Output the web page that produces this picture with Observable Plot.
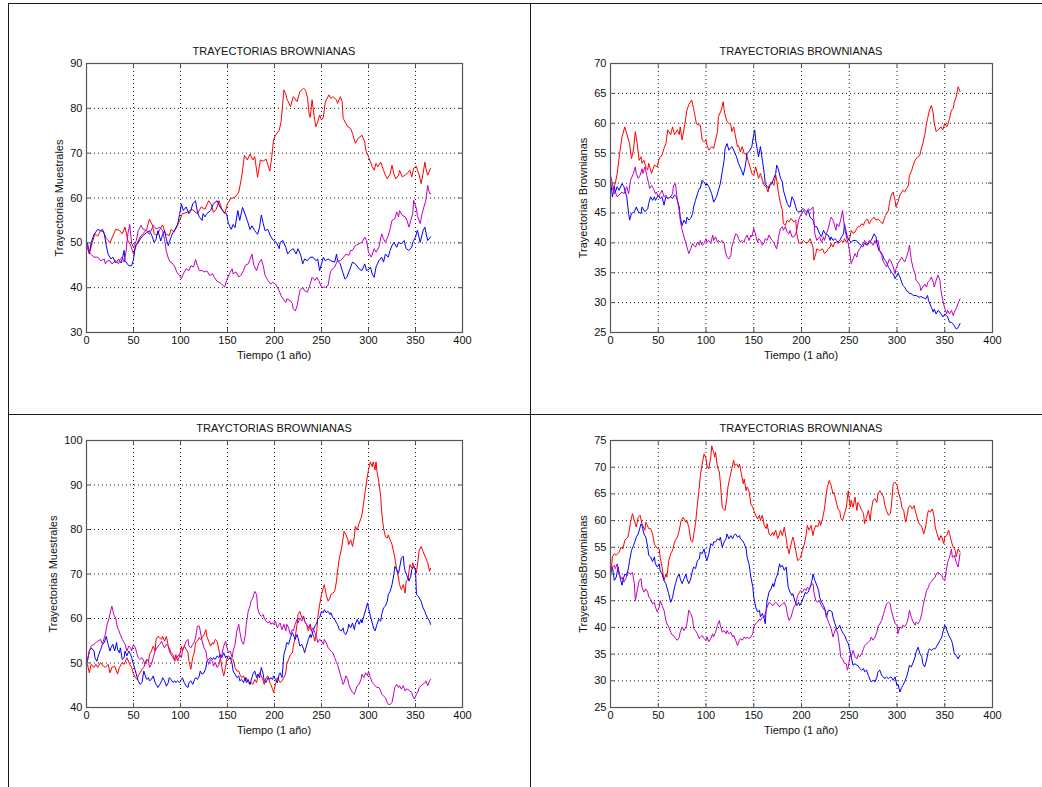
<!DOCTYPE html>
<html><head><meta charset="utf-8">
<script src="https://cdn.jsdelivr.net/npm/d3@7"></script>
<script src="https://cdn.jsdelivr.net/npm/@observablehq/plot@0.6"></script>
<style>
body{margin:0;background:#fff;}
#page{position:relative;width:1042px;height:787px;background:#fff;overflow:hidden;font-family:"Liberation Sans",Arial,sans-serif;}
.lbl{position:absolute;font-size:11px;line-height:13px;color:#111;white-space:nowrap;transform:translate(-50%,-50%);}
.ylbl{transform:translate(-50%,-50%) rotate(-90deg);}
.bd{position:absolute;background:#1a1a1a;}
</style></head><body><div id="page"></div><script>
// ---- tick labels / text ----
const xTicks = [0,50,100,150,200,250,300,350,400];
const yTicks1 = [30,40,50,60,70,80,90];
const yTicks2 = [25,30,35,40,45,50,55,60,65,70];
const yTicks3 = [40,50,60,70,80,90,100];
const yTicks4 = [25,30,35,40,45,50,55,60,65,70,75];
const titles = ["TRAYECTORIAS BROWNIANAS","TRAYECTORIAS BROWNIANAS","TRAYCTORIAS BROWNIANAS","TRAYECTORIAS BROWNIANAS"];
const yLabels = ["Trayectorias Muestrales","Trayectorias Brownianas","Trayectorias Muestrales","TrayectoriasBrownianas"];
const xLabel = "Tiempo (1 año)";
const seriesColors = {rojo:"#ff0000", azul:"#0000ff", magenta:"#c000c0"};

// ---- panel 1 (top-left) [day, value] ----
const p1Red = [[0,49.5],[3,47.5],[6,50],[9,52],[12,51.5],[15,52.7],[18,52.5],[21,51],[25,50],[28,51.5],[31,53],[35,52.8],[38,52],[41,53.5],[44,50.5],[47,49.4],[50,47.5],[53,49.5],[57,51.3],[60,52],[64,53],[67,55.3],[70,54],[72,52],[75,51.7],[78,53],[81,54],[84,52],[88,51.6],[90,53],[93,52.4],[96,53.5],[99,55],[102,56.5],[107,56.8],[112,57.5],[118,56.5],[122,58],[126,57.5],[130,59.4],[133,58.5],[135,56.8],[138,57.5],[141,59.4],[144,57.5],[147,56.5],[150,58.7],[153,59.8],[158,60.2],[162,61.3],[165,64.6],[168,69.5],[171,68.5],[174,69.8],[177,68.5],[179,69.2],[182,64.6],[185,68.5],[188,68.2],[191,68.7],[195,66],[197,69],[199,72.9],[201,74],[205,75.1],[207,77],[210,84.1],[212,83.2],[213,82.2],[217,80.4],[220,82.6],[224,81.5],[227,83.7],[231,84.5],[233,84],[235,82.5],[237,78.5],[238,78],[240,81.9],[242,78.5],[244,75.9],[246,77],[248,78.5],[250,77.4],[252,78],[254,81.4],[258,83],[260,82.2],[262,82.6],[266,81.9],[267,81.1],[270,82.6],[272,81.5],[273,77.8],[276,76.6],[278,75.9],[281,75.5],[283,74.4],[286,72.2],[289,73.3],[293,74],[296,72.5],[297,70.7],[300,69.2],[302,68.1],[304,67],[306,66.2],[308,67.7],[310,67],[313,68],[314,67.3],[316,66.2],[318,65.1],[320,64.3],[323,65.4],[325,67.3],[327,65.4],[329,64.3],[332,65.1],[333,66.2],[336,64.7],[339,65.1],[341,65.4],[344,66.2],[346,64.7],[348,66.6],[351,67.1],[352,66.2],[354,65.1],[356,63.2],[358,65.4],[360,68],[361,66.6],[363,65.1],[366,66.6]];
const p1Blue = [[0,50],[1,50],[3,47.7],[5,50],[8,51.9],[12,53],[15,52.7],[17,53],[19,51.9],[21,49.4],[23,47.5],[26,46.4],[28,46.8],[31,45.5],[34,46.3],[37,45.5],[40,48.3],[41,46],[45,44.9],[48,44.9],[50,46.3],[52,49.4],[55,50.1],[57,50.8],[60,51.6],[64,52.3],[67,52.7],[69,51.9],[72,50.1],[74,50.8],[76,52.7],[79,50.4],[81,51.9],[83,52.7],[85,50.8],[87,49.4],[88,50.1],[91,51.9],[94,53],[97,54.1],[99,56.3],[101,58.7],[103,57.2],[106,58],[109,56.5],[111,57.2],[113,58.7],[116,59.4],[118,56.9],[120,55.8],[123,55],[124,56.5],[126,55.8],[128,56.5],[132,57.2],[135,58.7],[139,59.4],[142,58],[146,56.9],[149,56.5],[151,54.3],[154,53],[156,54.1],[158,53.4],[161,57.2],[163,55],[166,57.9],[169,56.2],[171,55],[174,53],[176,53.8],[179,52.7],[182,51.9],[184,53.4],[186,56.2],[188,54.3],[190,52.7],[193,53],[196,51.4],[199,50.5],[202,50.1],[205,48.7],[206,50.1],[209,50.5],[212,49],[214,47.5],[217,48.3],[220,48.7],[223,47.5],[225,48.7],[228,47.2],[230,45.3],[232,46.4],[235,46],[238,46.8],[241,46.8],[244,46],[246,46.4],[248,43.8],[250,45.3],[252,46.8],[254,46],[257,46.4],[260,46],[264,45.7],[266,47.5],[267,46],[270,45.3],[272,43.8],[275,41.9],[277,42.3],[281,44.6],[283,45.7],[286,45.3],[290,44.2],[293,43.8],[296,45.3],[298,43.8],[301,44.2],[302,44.6],[304,43],[306,42.3],[308,44.6],[311,46],[314,46.8],[316,45.7],[318,47.5],[321,46.8],[323,48.3],[325,49.4],[327,50.1],[330,49],[332,50.1],[335,49.8],[338,50.5],[340,48.7],[343,48.3],[346,49],[347,50.1],[350,51.3],[352,52.8],[353,52],[355,50.1],[358,52.7],[360,53.5],[361,52.4],[363,50.5],[366,51.3]];
const p1Mag = [[0,50],[1,49.4],[3,47.9],[5,47.4],[8,46.8],[12,46.8],[15,46],[19,46.4],[20,45.3],[22,46],[25,46],[27,45.3],[31,46],[34,45.3],[36,46.4],[38,46.8],[40,45.7],[42,47.9],[44,52],[46,54.1],[47,52],[48,49.8],[50,49],[53,50.5],[55,52.7],[58,53.9],[60,53.1],[64,52.7],[67,51.9],[71,53.9],[74,53.1],[78,53.5],[81,52.7],[83,50.8],[85,48.1],[87,46.6],[89,45.7],[91,45.5],[94,44.6],[96,43.5],[99,42.7],[101,42],[103,43.1],[106,44.2],[109,43.8],[111,44.9],[114,44.6],[116,46.3],[118,44.9],[120,43.8],[123,43.8],[126,43.5],[128,43.8],[131,42.7],[134,43.1],[136,42.3],[139,41.4],[142,41.1],[144,40.8],[147,40.1],[149,41.6],[152,43.1],[155,44.2],[156,43.1],[159,43.5],[162,42.4],[164,42.7],[167,43.8],[169,45],[172,45.3],[174,46.3],[176,47.5],[178,45],[181,43.8],[183,45.3],[186,46.3],[188,44.9],[190,42.7],[193,41.6],[196,40.8],[198,41.2],[201,40.8],[203,40.1],[205,39.3],[207,38.2],[209,37.5],[212,36.7],[213,37.5],[217,37.1],[219,36.4],[220,35.2],[222,34.8],[224,35.9],[225,37.1],[227,39.3],[230,40.1],[232,39.3],[235,39],[238,40.8],[240,42.3],[243,41.6],[245,42.3],[247,41.6],[250,40.1],[252,40.1],[254,40.1],[257,40.5],[259,43],[260,43.8],[264,44.6],[267,46],[270,46],[272,46.4],[276,47.5],[279,47.2],[281,48.3],[283,48.3],[286,49.4],[290,49.8],[293,50.1],[296,51.3],[298,50.5],[300,47.9],[303,46.8],[306,48.7],[308,47.9],[311,49],[314,52],[316,50.9],[318,50.1],[321,51.6],[323,53.1],[325,55],[328,55.4],[330,56.9],[332,55.8],[333,57.2],[336,56.1],[339,55.8],[341,55],[343,53.5],[345,55],[347,56.5],[348,59.5],[351,57.6],[352,56.1],[355,54.3],[357,56.5],[359,58],[361,59.5],[363,62.8],[365,61],[366,61]];

// ---- panel 2 (top-right) ----
const p2Red = [[0,49.4],[2,48.9],[5,49.9],[7,51.6],[10,55.5],[12,57.7],[15,59.4],[18,57.7],[20,56.6],[22,54.1],[24,55.5],[26,58.6],[28,56.6],[30,53.8],[32,54.4],[33,53.3],[35,53.8],[37,52.7],[39,52.2],[40,53.3],[43,51.6],[46,53],[49,52.7],[51,54.1],[54,54.7],[56,55.8],[58,56.6],[60,58.9],[63,58.1],[65,59.4],[67,58.1],[70,58.9],[72,58.1],[73,59.4],[75,57.2],[78,60],[80,62.2],[82,63.1],[85,63.9],[87,62.5],[88,61.6],[90,59.9],[93,59.7],[94,59.7],[96,57.2],[98,56.9],[100,57.2],[101,56.3],[103,55.5],[106,56.1],[108,55.8],[110,57.2],[112,58.6],[113,61.1],[116,62.2],[118,63.6],[119,62.2],[120,61.4],[122,60.3],[124,60],[126,59.7],[127,58.6],[129,59.4],[131,57.7],[133,56.1],[134,56.3],[136,55.2],[138,56.1],[140,54.9],[142,54.9],[144,53.8],[147,52.2],[148,51.6],[150,51.3],[152,52.7],[155,50.8],[157,51.6],[159,50.5],[161,49.6],[163,49.4],[165,48.5],[166,49.6],[169,50.2],[171,49.6],[173,51.3],[174,50.5],[176,48.2],[178,46.6],[180,45.4],[181,43.2],[183,42.9],[185,43.8],[187,43.5],[189,44.1],[192,43.5],[194,43.8],[195,41.6],[197,40.1],[198,39.9],[200,40.1],[202,40.4],[205,39.9],[207,40.1],[209,40.7],[212,39.3],[213,37.1],[215,38.2],[216,39],[219,38.7],[222,39],[224,38.2],[226,38.5],[228,39],[230,39.3],[231,39.9],[233,39.3],[235,40.1],[237,40.1],[238,39.9],[240,40.1],[242,40.4],[244,40.1],[245,40.7],[247,40.1],[249,40.4],[251,41],[252,42.1],[254,41.6],[256,41.8],[258,42.4],[259,42.7],[261,42.7],[263,43.2],[265,42.9],[266,43.5],[269,44],[271,43.2],[273,43.8],[276,44.3],[278,43.8],[280,44],[283,43.5],[285,43.2],[286,43.8],[288,44.6],[291,45.4],[292,46.6],[294,48],[296,48.5],[298,47.1],[299,46],[301,46.8],[303,48],[305,48.5],[306,48.8],[308,48.5],[310,49.1],[312,49.6],[313,51.3],[315,51.9],[317,53],[319,53.8],[320,54.1],[322,54.4],[324,54.7],[325,55.5],[327,56.6],[329,58],[331,60],[332,60.8],[334,62.2],[336,63],[338,61.6],[339,60],[341,58.6],[343,58.9],[345,59.2],[346,59.4],[348,58.9],[350,60],[352,59.4],[353,59.7],[355,60.8],[357,62.2],[359,62.5],[360,63.6],[362,64.4],[364,66.1],[366,65.3]];
const p2Blue = [[0,50.5],[2,47.7],[4,49.4],[5,48.5],[7,49.4],[9,48.8],[12,49.9],[14,49.4],[17,47.7],[19,44.9],[20,43.8],[22,44.9],[25,45.2],[27,46],[29,45.2],[32,44.9],[33,46],[36,45.2],[39,45.7],[40,46.6],[42,47.7],[44,47.1],[46,47.7],[47,47.1],[50,48],[52,47.4],[54,47.7],[56,46.3],[58,47.7],[60,47.4],[63,47.7],[65,47.4],[67,48],[69,47.7],[72,46],[73,44.4],[75,42.9],[77,43.8],[79,43.2],[80,44.3],[82,43.8],[84,44.1],[86,44.9],[87,46],[89,47.1],[91,48.2],[93,49.1],[94,49.1],[96,50.5],[98,50.2],[100,49.6],[101,49.9],[103,49.4],[106,48.2],[108,46.8],[111,47.7],[113,48.8],[115,49.9],[117,51.9],[119,53.8],[120,55.8],[122,56.6],[124,55.5],[127,56.1],[129,55.5],[132,54.4],[134,53.3],[137,52.2],[139,51.3],[141,52.7],[143,54.9],[146,55.5],[148,56.1],[149,57.2],[151,58.9],[152,57.2],[155,54.4],[157,56.1],[159,53.8],[161,51.6],[162,49.9],[164,49.4],[166,49.1],[167,49.6],[169,49.9],[171,50.8],[173,51.6],[174,53],[176,52.2],[178,50.8],[180,50.2],[181,48.8],[183,47.7],[185,46.6],[187,46],[188,46],[190,47.7],[192,47.1],[194,46],[195,45.4],[197,45.2],[199,45.2],[201,45.7],[202,45.7],[205,45.2],[207,45.4],[209,44.3],[212,43.8],[214,42.7],[216,42.7],[219,41.5],[221,41],[223,42.1],[225,41.5],[228,41.3],[230,40.4],[231,41],[233,40.4],[235,40.7],[237,40.4],[238,40.1],[240,40.4],[242,41],[244,41.5],[245,43.2],[246,42.4],[248,41],[250,40.4],[252,40.1],[254,40.4],[257,40.4],[259,40.1],[262,39.6],[264,39.3],[266,39.9],[269,39.6],[271,40.1],[273,40.4],[276,41.5],[278,41],[279,39.9],[281,38.7],[283,38.5],[285,37.9],[287,37.1],[289,36.8],[291,35.9],[292,35.7],[294,35.1],[296,34.8],[298,34],[299,34.3],[301,34.9],[303,34.3],[305,33.4],[306,32.9],[308,32.6],[310,32],[312,31.8],[313,31.5],[315,31.5],[317,31.2],[320,31.2],[323,30.9],[325,31],[328,30.8],[330,30.6],[332,31.2],[333,30.4],[336,29.2],[338,28.4],[339,28.9],[341,28.1],[343,28.7],[345,28.4],[346,28.1],[348,27.6],[350,28.1],[352,27.8],[353,27.6],[355,26.7],[357,26.7],[359,26.4],[360,26.1],[362,25.6],[364,25.8],[366,26.5]];
const p2Mag = [[0,51.3],[2,49.9],[4,48.2],[5,48.5],[7,47.7],[9,48],[12,48.5],[14,48.2],[17,49.4],[19,48.2],[21,50.5],[24,51.6],[26,52.7],[27,51.6],[29,50.8],[31,51.3],[33,52.4],[34,51.6],[36,52.7],[38,51.3],[40,49.9],[41,49.1],[43,49.6],[45,49.1],[47,48.2],[48,48.5],[50,47.7],[52,48.2],[54,48.8],[56,47.7],[58,48],[60,47.4],[63,47.7],[65,48.2],[66,49.6],[68,49.9],[70,47.1],[72,45.4],[73,43.8],[75,42.1],[77,41],[79,39.9],[80,39.3],[82,38.2],[84,39],[86,39.9],[87,39.6],[89,39.3],[91,40.1],[93,39.6],[94,40.4],[96,39.6],[98,39.9],[100,40.7],[101,40.1],[103,40.4],[105,39.9],[107,41.3],[108,40.4],[110,41],[112,40.1],[113,40.4],[115,40.1],[117,40.4],[119,39.9],[120,38.8],[122,37.6],[124,37.3],[126,37.9],[127,39.3],[129,40.4],[131,41.5],[133,41.3],[134,40.7],[136,40.1],[138,40.4],[140,40.1],[141,40.7],[143,41.3],[145,40.4],[147,41.3],[148,41],[150,42.4],[152,41.3],[154,40.1],[155,40.7],[157,40.4],[159,39.6],[161,40.1],[162,40.7],[164,40.4],[166,41.3],[167,41],[169,40.4],[171,40.1],[173,39.3],[174,39],[176,41],[178,42.4],[180,42.7],[181,42.1],[183,42.7],[185,41.8],[187,41.5],[188,42.1],[190,41],[192,41],[194,41.5],[195,42.1],[197,43.8],[199,44.6],[202,45.4],[205,44.6],[207,45.7],[209,45.4],[212,46],[213,43.8],[214,41.5],[216,40.4],[219,41],[221,40.1],[223,41],[224,40.4],[226,41.5],[228,42.4],[230,43.8],[231,44.3],[233,43.8],[235,42.7],[236,42.1],[237,43.2],[239,42.7],[241,43.8],[243,45.4],[244,44],[245,42.7],[247,41],[249,39.9],[251,37.9],[252,36.5],[254,37.3],[256,38.2],[258,37.6],[259,38.5],[261,39],[263,39.6],[265,39.9],[266,40.4],[268,39.6],[270,40.1],[271,40.4],[273,40.1],[275,39.6],[277,40.4],[278,39.9],[280,40.4],[282,38.7],[284,37.9],[285,37.1],[287,36.5],[289,36],[291,36.8],[292,37.3],[294,36.8],[296,36],[298,34.8],[299,35.7],[301,36.5],[303,37.1],[305,37.6],[306,37.3],[308,36.8],[310,37.6],[312,38.7],[313,39.6],[315,37.1],[317,35.7],[319,34.8],[320,33.7],[322,33.4],[324,32.9],[325,32],[327,32.6],[329,33.1],[331,32.6],[332,33.4],[334,33.7],[336,34.3],[338,33.4],[339,32.6],[341,33.7],[343,34.6],[345,33.7],[346,32],[348,30.4],[350,29],[352,28.1],[353,28.7],[355,28.1],[357,28.7],[359,27.8],[360,28.4],[362,29],[364,29.9],[366,30.6]];

// ---- panel 3 (bottom-left) ----
const p3Red = [[0,50],[1,49.7],[3,47.8],[5,49.7],[8,49],[10,49.7],[12,49],[15,50.1],[18,49.3],[20,49],[23,49.7],[25,47.8],[27,49],[30,49.3],[33,47.5],[35,49],[38,50.1],[40,49.7],[43,51.2],[46,49.7],[48,49],[50,47.5],[52,46.7],[54,46.3],[55,47.1],[57,47.8],[59,48.6],[61,49],[62,49.7],[64,50.8],[66,50.4],[67,51.9],[69,52.7],[71,53.8],[73,52.7],[74,55.3],[76,56],[78,55.7],[80,55.3],[81,56],[83,54.9],[85,56],[87,53.8],[88,53.4],[90,52.3],[92,51.9],[94,50.8],[95,51.9],[97,50.4],[99,51.6],[101,53.8],[102,52.7],[104,53.8],[106,53.1],[108,52.3],[109,50.4],[111,48.6],[113,51.2],[115,52.7],[116,54.6],[118,54.9],[120,55.7],[121,55.3],[123,55.7],[125,56.4],[127,57.5],[128,56],[130,54.9],[132,53.8],[134,54.6],[135,54.2],[137,55.3],[139,54.9],[141,52.7],[142,51.9],[144,49],[146,47.1],[148,49],[149,50.8],[151,51.6],[153,51.2],[155,50.8],[156,50.8],[158,49],[160,48.2],[162,48.2],[163,47.5],[165,46.7],[167,47.1],[169,46],[170,46.7],[172,45.6],[174,45.2],[175,45.6],[177,45.2],[179,46.3],[181,45.6],[182,46.7],[184,47.8],[186,47.1],[188,46],[189,45.2],[191,46.7],[193,47.1],[195,45.6],[196,45.2],[198,44.1],[199,43.4],[201,45.2],[203,46.7],[205,46],[206,45.6],[208,46],[210,46.7],[212,47.8],[213,49.7],[215,50.8],[217,51.9],[219,52.3],[220,53.8],[222,55.7],[224,58.7],[225,60.9],[227,61.6],[229,60.2],[231,60.5],[232,59.4],[234,58.7],[236,57.2],[238,58.7],[239,57.5],[241,56.4],[243,54.9],[245,57.2],[246,60.2],[248,63.1],[250,65.4],[252,66.9],[253,67.6],[255,65.4],[257,63.9],[259,64.6],[260,65.4],[262,65.7],[264,66.1],[266,68.4],[267,70.6],[269,73.6],[271,75.4],[273,78.1],[274,79.6],[276,78.8],[278,77.7],[279,76.6],[281,77.7],[283,76.2],[285,78.4],[286,80.7],[288,79.9],[290,81.4],[292,82.5],[293,83.3],[295,86.3],[297,89.3],[299,92.2],[300,93.4],[302,95.2],[304,94.1],[305,95.2],[307,93.4],[308,95.2],[309,93],[311,90.7],[313,87.4],[314,84],[316,80.3],[318,78.4],[320,78.1],[321,78.8],[323,77.7],[325,76.6],[327,74.7],[328,73.6],[330,71],[332,69.1],[333,67.6],[335,66.5],[337,67.6],[339,65.7],[340,68.4],[342,68.8],[344,72.1],[346,71.3],[347,72.5],[349,71.3],[351,70.2],[353,73.6],[354,75.4],[356,76.2],[358,75.1],[360,74],[361,73.6],[363,72.5],[365,70.6],[366,71.3]];
const p3Blue = [[0,50],[1,50.4],[3,52.7],[5,53.4],[8,52.7],[9,51.2],[11,50.4],[13,51.9],[15,53],[17,54.2],[19,54.6],[21,56],[23,54.2],[25,52.7],[26,53.4],[28,54.2],[30,52.7],[32,54.6],[33,53.1],[35,52.3],[36,53.4],[38,50.8],[40,51.2],[41,52.7],[43,51.6],[45,52.7],[47,51.9],[48,51.2],[50,49.7],[52,48.2],[54,46.7],[55,46],[57,45.2],[59,45.6],[61,48.2],[62,47.5],[64,46.3],[66,46.7],[67,46],[69,46.3],[71,47.1],[73,45.6],[74,45.2],[76,44.5],[78,45.2],[80,46],[81,46.7],[83,46],[85,44.8],[87,45.6],[88,46.7],[90,46.3],[92,45.6],[94,46],[95,45.6],[97,46],[99,45.6],[101,46.3],[102,46.7],[104,45.6],[106,44.8],[108,44.5],[109,45.6],[111,46],[113,45.2],[115,46.3],[116,46.7],[118,46.3],[120,47.1],[121,48.2],[123,47.5],[125,47.8],[127,48.9],[128,50.4],[130,50.8],[132,51.2],[134,50.8],[135,51.2],[137,50.8],[139,51.6],[141,51.2],[142,51.9],[144,51.2],[146,52.3],[148,51.2],[149,51.6],[151,50.8],[153,51.2],[155,49.7],[156,48.2],[158,47.5],[160,46.7],[162,47.1],[163,46],[165,46.3],[167,45.6],[169,46.7],[170,45.6],[172,46.3],[174,45.2],[175,46],[177,47.5],[179,48.2],[181,46.7],[182,47.5],[184,46.7],[186,49],[188,47.5],[189,46],[191,45.6],[193,46.7],[195,46.3],[196,46.7],[198,46.3],[199,47.1],[201,46.3],[203,45.6],[205,47.5],[206,47.8],[208,46.7],[210,51.9],[212,53.4],[213,54.6],[215,54.2],[217,55.7],[219,56.8],[220,56.4],[222,55.3],[224,56.4],[225,55.7],[227,53.8],[229,54.2],[231,53.1],[232,52.3],[234,53.8],[236,55.3],[238,56.4],[239,55.7],[241,57.2],[243,58.3],[245,59],[246,59.8],[248,60.2],[250,61.6],[252,61.3],[253,62],[255,61.3],[257,61.6],[259,60.9],[260,61.3],[262,60.2],[264,59.8],[266,59],[267,58.7],[269,57.5],[271,57.2],[273,57.9],[274,56.8],[276,56.4],[278,57.5],[279,58.7],[281,57.9],[283,59],[285,57.5],[286,58.7],[288,59.8],[290,58.7],[292,59.8],[293,59],[295,60.5],[297,62],[299,63.5],[300,62.4],[302,60.5],[304,59],[306,57.5],[307,57.2],[309,58.7],[311,59.8],[313,59.4],[314,60.9],[316,62.4],[318,62.8],[320,63.9],[321,65.4],[323,66.1],[325,67.6],[327,69.9],[328,71.7],[330,71],[332,70.2],[333,71.3],[335,73.6],[337,74],[338,71.7],[339,70.6],[342,69.1],[343,68.4],[345,69.5],[346,71],[348,71.7],[350,71],[351,65.4],[353,65],[354,64.6],[356,63.9],[358,62.4],[360,61.6],[361,60.9],[363,60.1],[365,59.4],[366,58.7]];
const p3Mag = [[0,50],[1,50.8],[3,52.7],[5,53.8],[8,54.2],[10,54.6],[12,54.9],[15,55.3],[17,54.2],[19,55.7],[20,56.4],[22,58.7],[24,60.1],[26,62],[27,62.8],[29,60.9],[31,60.1],[33,57.9],[34,57.5],[36,56.4],[38,55.3],[40,54.6],[41,54.2],[43,52.7],[45,53.8],[47,53.4],[48,52.7],[50,54.2],[52,53.4],[54,51.9],[55,51.2],[57,50.8],[59,51.2],[61,50.4],[62,49.7],[64,50.8],[66,50.4],[67,49],[69,49.7],[71,51.2],[73,52.7],[74,53.1],[76,53.8],[78,54.2],[80,54.9],[81,54.2],[83,53.4],[85,54.2],[87,53.8],[88,52.7],[90,51.9],[92,51.2],[94,50.4],[95,50.8],[97,51.6],[99,51.9],[101,51.2],[102,52.7],[104,53.8],[106,54.9],[108,55.3],[109,53.8],[111,53.4],[113,54.2],[115,54.9],[116,55.7],[118,58.3],[120,58.3],[121,57.2],[123,54.9],[125,53.4],[127,52.7],[128,51.2],[130,49.7],[132,50.8],[134,50.4],[135,49.3],[137,50.1],[139,49],[141,49.7],[142,50.8],[144,51.9],[146,53.8],[148,54.9],[149,53.8],[151,52.3],[153,52.7],[155,51.2],[156,52.7],[158,54.2],[160,57.2],[162,58.7],[163,57.2],[165,54.9],[167,54.2],[169,56.4],[170,58.7],[172,61.6],[174,62.8],[175,63.9],[177,64.6],[179,66.1],[181,65.4],[182,62.4],[184,60.9],[186,60.5],[188,60.9],[189,60.1],[191,59.4],[193,59],[195,59.4],[196,58.7],[198,59],[199,58.7],[201,59.4],[203,57.9],[205,58.7],[206,59],[208,57.5],[210,58.7],[212,57.2],[213,58.7],[215,57.9],[217,56.4],[219,57.5],[220,57.2],[222,58.7],[224,59.8],[225,59],[227,60.1],[229,59.4],[231,60.5],[232,59.4],[234,58.7],[236,57.9],[238,58.7],[239,57.2],[241,57.9],[243,56.8],[245,55.7],[246,54.6],[248,55.3],[250,54.9],[252,54.2],[253,55.3],[255,54.6],[257,53.4],[259,53],[260,52.7],[262,52.3],[264,51.2],[266,50.1],[267,49.7],[269,48.2],[271,46.7],[273,45.2],[274,45.6],[276,47.1],[278,46.3],[279,45.2],[281,44.1],[283,43.4],[285,43],[286,43.7],[288,44.9],[290,45.2],[292,46.3],[293,47.5],[295,46.7],[297,47.8],[299,47.1],[300,48.2],[302,46.7],[304,45.6],[306,45.2],[307,44.9],[309,44.5],[311,44.5],[313,43.7],[314,43],[316,42.6],[318,42.2],[320,41.1],[321,40.7],[323,40.7],[325,41.1],[327,43.4],[328,44.5],[330,45.2],[332,44.5],[333,44.9],[335,44.1],[337,44.9],[339,43.7],[340,44.1],[342,44.1],[344,43.7],[346,43.4],[347,42.6],[349,41.9],[351,43],[353,43.7],[354,44.5],[356,44.9],[358,45.2],[360,45.6],[361,46],[363,44.9],[365,46],[366,46.3]];

// ---- panel 4 (bottom-right) ----
const p4Red = [[0,50.5],[1,51],[2,53.2],[4,53.8],[6,53.5],[9,54.1],[11,55],[13,54.7],[15,56.3],[18,56.9],[19,57.5],[21,59.7],[23,61.3],[25,60],[27,58.8],[29,60.6],[31,61],[33,59.4],[36,58.2],[37,59.7],[40,58.5],[42,58.5],[44,57.5],[46,55.6],[48,55],[51,54.7],[52,53.1],[54,51.3],[56,48.8],[58,50],[59,49.4],[61,52.5],[63,53.8],[65,54.4],[67,56],[70,56.9],[72,58.2],[74,60],[76,60.6],[79,59.7],[80,60],[82,58.8],[84,56.3],[86,56],[87,57.2],[89,59.4],[91,63.1],[93,66.3],[94,68.4],[96,70.6],[98,72.5],[100,71.6],[101,70.3],[103,69.7],[105,71.9],[106,74],[108,72.8],[109,71.9],[110,72.8],[112,70],[114,69.1],[115,67.2],[117,62.5],[118,62.2],[120,61.9],[122,64.4],[123,66.3],[125,68.1],[127,69.7],[129,71.3],[130,70.3],[132,70.6],[134,70],[135,70.6],[137,68.8],[139,66.9],[140,67.8],[142,65.6],[143,66.3],[145,65.6],[147,63.1],[149,62.5],[150,61.9],[152,61],[154,60.3],[156,61],[157,60],[159,61],[161,59.1],[163,58.5],[164,59.4],[166,57.5],[168,57.2],[170,57.8],[171,57.2],[173,58.2],[175,56.6],[177,57.5],[178,58.2],[180,57.2],[182,58.8],[184,56.6],[185,55.3],[187,53.8],[189,55.6],[191,56.9],[192,56.3],[194,54.4],[196,52.5],[198,52.8],[199,53.1],[201,54.4],[203,55.6],[205,57.5],[206,59.1],[208,58.2],[210,59.1],[212,57.2],[213,58.2],[215,59.1],[217,58.8],[219,60],[220,59.1],[222,60.3],[224,62.2],[226,65],[227,66.3],[229,67.5],[231,66.6],[233,65],[234,65.3],[236,63.8],[238,62.2],[240,61.9],[241,60.6],[243,60],[245,61.3],[247,62.5],[248,64.1],[249,65.6],[251,62.5],[252,63.8],[254,62.5],[256,64.4],[258,61.9],[259,63.4],[261,62.8],[263,61.9],[265,61.3],[266,59.4],[268,60.6],[270,61.9],[272,60],[273,61.9],[275,63.8],[277,64.1],[279,63.4],[280,65],[282,65.6],[284,65],[286,64.4],[287,63.1],[289,61.9],[291,61],[293,61.3],[294,62.5],[296,66.9],[298,67.2],[300,66.6],[302,65],[304,63.8],[305,62.5],[307,61.9],[309,59.7],[311,61.3],[312,62.5],[314,62.8],[316,62.2],[318,62.8],[319,61.9],[321,60.6],[323,59.4],[325,59.1],[326,58.8],[328,57.5],[330,58.8],[332,61.3],[333,61.9],[335,61.6],[337,62.2],[339,60.6],[340,58.8],[342,57.5],[344,56.3],[346,57.2],[347,56.9],[349,55.7],[350,56.9],[352,57.2],[354,58.2],[356,56.9],[357,56],[359,55],[361,54.4],[362,53.2],[364,54.7],[366,54.1]];
const p4Blue = [[0,50],[2,51.3],[4,48.8],[6,49.4],[8,51.3],[10,49.4],[12,47.9],[13,48.8],[15,50],[17,49.7],[19,51.3],[20,52.5],[22,54.4],[24,55.3],[26,56.3],[27,56.9],[29,57.5],[32,59.4],[33,59.1],[35,57.5],[37,56.9],[39,55],[40,53.5],[42,53.2],[44,52.3],[46,53.2],[47,51.9],[49,51.3],[51,51.9],[52,50.6],[54,50],[56,48.8],[58,48.2],[59,47.5],[61,46.3],[63,44.7],[65,45.6],[66,46.6],[68,48.2],[70,49.4],[72,50],[73,49.1],[75,48.2],[77,49.1],[79,50],[80,49.1],[82,48.2],[84,49.1],[86,50.7],[87,51.3],[89,51],[91,52.5],[93,52.8],[94,54.1],[96,53.8],[98,54.7],[100,52.9],[101,52.5],[103,53.8],[105,55.7],[107,55.3],[108,56],[110,56],[112,56.6],[114,56.3],[115,56.9],[117,55],[119,56],[121,56.6],[122,57.5],[124,56.6],[126,57.2],[128,56.6],[129,57.2],[131,57.5],[133,56.9],[135,57.2],[136,56.6],[138,56.3],[140,55.7],[142,54.7],[143,53.2],[145,51.9],[147,49.4],[149,47.6],[150,45.7],[152,43.8],[154,42.9],[156,43.2],[157,42],[159,42.6],[161,41.6],[162,40.7],[163,43.2],[164,45],[166,46.6],[168,47.2],[170,48.2],[171,47.6],[173,49.1],[175,50],[177,51.9],[178,51.3],[180,51.6],[182,50.7],[184,51.3],[185,49.4],[186,47.6],[188,46.6],[190,46],[191,46.3],[193,45],[195,44.1],[197,44.7],[198,44.1],[200,44.7],[202,45.6],[204,46.6],[205,46.3],[207,46.6],[209,47.5],[211,48.8],[212,50],[214,48.8],[216,47.9],[218,46.9],[219,45.6],[221,44.7],[223,44.1],[225,43.2],[226,41.9],[228,43.1],[230,43.2],[232,42.9],[233,41.9],[235,40.7],[237,39.7],[239,40],[240,40.4],[242,39.4],[244,38.8],[246,38.2],[247,37.6],[249,37],[251,35.4],[252,34.5],[254,32.9],[256,33.2],[258,32.9],[259,32.9],[261,32.3],[263,32],[265,32.3],[266,31.7],[268,32],[270,31],[272,30.1],[273,29.8],[275,30.1],[277,29.8],[279,30.7],[280,31.6],[282,32],[284,31],[286,30.7],[287,30.4],[289,30.7],[291,30.4],[293,30.7],[294,30.7],[296,30.1],[298,30.7],[300,29.1],[301,29.4],[303,27.9],[305,28.8],[306,29.1],[308,29.8],[310,30.7],[312,32],[313,32.9],[315,32.6],[317,33.5],[319,34.5],[320,35.4],[322,36.3],[324,35.1],[326,34.5],[327,33.2],[329,32.6],[331,33.9],[333,35.7],[334,36],[336,35.7],[338,36],[340,36],[341,36.3],[343,36.9],[345,37.6],[347,38.2],[348,39.1],[350,40.4],[351,40.1],[353,39.1],[355,38.2],[357,37.6],[358,37],[360,35.1],[362,34.8],[364,34.1],[366,34.8]];
const p4Mag = [[0,50],[2,51.3],[4,51.6],[5,51],[7,51.9],[9,50],[11,49.1],[12,49.4],[14,48.5],[16,49.1],[18,50],[19,50.3],[21,50],[23,50.3],[25,48.2],[26,45],[28,46.9],[30,48.8],[32,49.1],[33,47.5],[35,46.6],[37,47.2],[39,46.6],[40,45.7],[42,45.3],[44,44.4],[46,44.7],[47,43.8],[49,42.9],[51,43.8],[52,45],[54,44.1],[56,43.2],[58,41.3],[59,40.7],[61,40.1],[63,39.1],[65,38.5],[66,38.5],[68,37.9],[70,37.6],[72,38.2],[73,39.1],[75,40.1],[77,39.4],[79,40.1],[80,40.7],[82,43.2],[84,42.6],[86,41.6],[87,39.8],[89,39.4],[91,38.8],[93,37.9],[94,38.2],[96,38.5],[98,37.9],[100,37.6],[101,38.2],[103,37.3],[105,37.9],[107,38.8],[108,38.2],[110,39.1],[112,40.4],[114,41.3],[115,40.4],[117,39.1],[119,39.4],[121,38.8],[122,39.4],[124,38.8],[126,39.1],[128,38.2],[129,38.5],[131,37.6],[133,36.6],[135,37.6],[136,37.9],[138,37.6],[140,38.2],[142,37.9],[143,38.2],[145,37.9],[147,38.2],[149,38.8],[150,40.1],[152,40.7],[154,41],[156,41.6],[157,41.3],[159,41.9],[161,41.9],[163,43.2],[164,43.8],[166,44.7],[168,44.4],[170,44.1],[171,44.4],[173,44.7],[175,44.4],[177,43.8],[178,44.1],[180,44.4],[182,44.7],[184,43.8],[185,42.6],[187,41.3],[189,41.9],[191,43.2],[192,43.8],[194,44.4],[196,46],[198,46.6],[199,46.9],[201,46.6],[203,47.2],[205,46.9],[206,47.5],[208,47.2],[210,47.9],[212,48.2],[213,46.6],[215,45],[217,44.7],[219,45],[220,44.4],[222,43.8],[224,43.2],[226,42.6],[227,41.6],[229,40.7],[231,39.8],[233,38.2],[234,38.8],[236,39.8],[238,38.8],[240,36.3],[241,34.5],[243,34.1],[245,33.2],[247,33.2],[248,32],[249,32.6],[251,34.8],[252,34.5],[254,35.7],[256,34.5],[258,34.1],[259,34.8],[261,34.5],[263,35.1],[265,36],[266,36.6],[268,36.9],[270,37.2],[272,37.6],[273,38.2],[275,37.6],[277,38.2],[279,39.1],[280,40.1],[282,40.7],[284,41.3],[286,42.6],[287,43.2],[289,44.4],[291,44.7],[293,44.4],[294,43.2],[296,41.9],[298,40.7],[300,40.4],[301,38.8],[303,40.1],[305,39.8],[306,40.4],[308,40.1],[310,40.7],[312,41.9],[313,43.2],[315,41.9],[317,41],[319,40.4],[320,41],[322,40.7],[324,41.3],[326,42.6],[327,43.8],[329,45.4],[331,46.9],[333,47.5],[334,48.2],[336,48.5],[338,49.1],[340,49.4],[341,50],[343,50.3],[345,50],[347,49.7],[348,49.1],[350,48.8],[351,50],[353,52.2],[355,53.1],[357,54.7],[358,53.1],[360,53.5],[362,52.2],[364,51.3],[366,53.8]];

// ---- layout ----
const page = document.getElementById("page");
function div(cls, css, text) {
  const d = document.createElement("div");
  d.className = cls; Object.assign(d.style, css);
  if (text != null) d.textContent = text;
  page.appendChild(d); return d;
}
// table borders
div("bd", {left:"8px", top:"3px", width:"1034px", height:"1px"});
div("bd", {left:"8px", top:"3px", width:"1px", height:"784px"});
div("bd", {left:"530px", top:"3px", width:"1px", height:"784px"});
div("bd", {left:"8px", top:"414px", width:"1034px", height:"1px"});

const FONT = '"Liberation Sans", Arial, sans-serif';
function drawPanel(cfg) {
  const mL = 70, mT = 25, mR = 30, mB = 40;
  const fw = cfg.fr - cfg.fl, fh = cfg.fb - cfg.ft;
  const [y0, y1] = cfg.yDomain;
  const tly = 4 * (y1 - y0) / fh, tlx = 4 * 400 / fw;
  const gridStyle = {stroke: "#000", strokeOpacity: 0.9, strokeDasharray: "1,3", strokeWidth: 1};
  const boxColor = "#555";
  const svg = Plot.plot({
    width: fw + mL + mR, height: fh + mT + mB,
    marginLeft: mL, marginTop: mT, marginRight: mR, marginBottom: mB,
    style: {fontFamily: FONT, fontSize: "11px", color: "#111", background: "transparent", overflow: "visible"},
    x: {domain: [0, 400]},
    y: {domain: cfg.yDomain},
    marks: [
      Plot.ruleX(xTicks.slice(1, -1), gridStyle),
      Plot.ruleY(cfg.yTicks.slice(1, -1), gridStyle),
      ...cfg.series.map(s => Plot.line(s.data, {x: d => d[0], y: d => d[1], stroke: s.color, strokeWidth: 1})),
      Plot.ruleX(xTicks, {y1: y0, y2: y0 + tly, stroke: boxColor}),
      Plot.ruleX(xTicks, {y1: y1, y2: y1 - tly, stroke: boxColor}),
      Plot.ruleY(cfg.yTicks, {x1: 0, x2: tlx, stroke: boxColor}),
      Plot.ruleY(cfg.yTicks, {x1: 400, x2: 400 - tlx, stroke: boxColor}),
      Plot.frame({stroke: boxColor, strokeWidth: 1.2}),
      Plot.axisX({ticks: xTicks, tickSize: 0, tickPadding: 4, label: null}),
      Plot.axisY({ticks: cfg.yTicks, tickSize: 0, tickPadding: 4, label: null})
    ]
  });
  svg.style.position = "absolute";
  svg.style.left = (cfg.fl - mL) + "px";
  svg.style.top = (cfg.ft - mT) + "px";
  page.appendChild(svg);
  const cx = (cfg.fl + cfg.fr) / 2;
  div("lbl", {left: cx + "px", top: (cfg.ft - 12) + "px"}, cfg.title);
  div("lbl", {left: cx + "px", top: (cfg.fb + 23) + "px"}, xLabel);
  div("lbl ylbl", {left: cfg.ylx + "px", top: ((cfg.ft + cfg.fb) / 2) + "px"}, cfg.ylabel);
}

const panels = [
  {fl: 86, fr: 462, ft: 63, fb: 332, yDomain: [30, 90], yTicks: yTicks1, title: titles[0], ylabel: yLabels[0], ylx: 59,
   series: [{data: p1Red, color: seriesColors.rojo}, {data: p1Blue, color: seriesColors.azul}, {data: p1Mag, color: seriesColors.magenta}]},
  {fl: 610, fr: 992, ft: 63, fb: 332, yDomain: [25, 70], yTicks: yTicks2, title: titles[1], ylabel: yLabels[1], ylx: 583,
   series: [{data: p2Red, color: seriesColors.rojo}, {data: p2Blue, color: seriesColors.azul}, {data: p2Mag, color: seriesColors.magenta}]},
  {fl: 86, fr: 462, ft: 440, fb: 707, yDomain: [40, 100], yTicks: yTicks3, title: titles[2], ylabel: yLabels[2], ylx: 53,
   series: [{data: p3Red, color: seriesColors.rojo}, {data: p3Blue, color: seriesColors.azul}, {data: p3Mag, color: seriesColors.magenta}]},
  {fl: 610, fr: 992, ft: 440, fb: 707, yDomain: [25, 75], yTicks: yTicks4, title: titles[3], ylabel: yLabels[3], ylx: 583,
   series: [{data: p4Red, color: seriesColors.rojo}, {data: p4Blue, color: seriesColors.azul}, {data: p4Mag, color: seriesColors.magenta}]}
];
panels.forEach(drawPanel);
</script></body></html>
